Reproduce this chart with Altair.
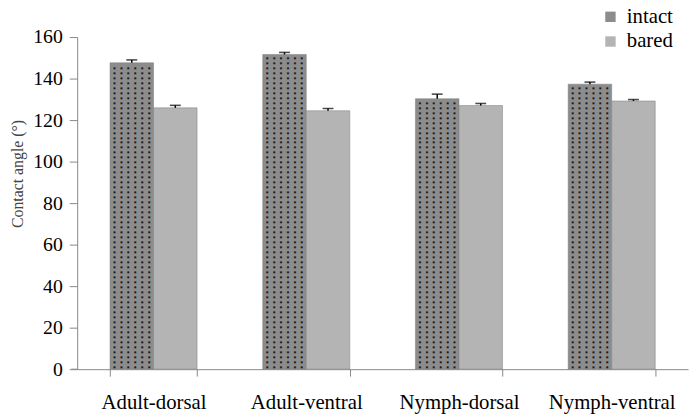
import altair as alt
import pandas as pd

categories = ["Adult-dorsal", "Adult-ventral", "Nymph-dorsal", "Nymph-ventral"]
intact = [147.6, 151.6, 130.3, 137.3]
intact_err = [1.4, 1.0, 2.2, 1.0]
bared = [125.9, 124.5, 127.0, 129.2]
bared_err = [1.2, 1.1, 1.0, 0.7]
groups = ["intact", "bared"]
y_ticks = [0, 20, 40, 60, 80, 100, 120, 140, 160]

rows = []
for i, c in enumerate(categories):
    rows.append({"cat": c, "grp": "intact", "value": intact[i], "err": intact_err[i]})
    rows.append({"cat": c, "grp": "bared", "value": bared[i], "err": bared_err[i]})
df = pd.DataFrame(rows)

SERIF = "Liberation Serif, Times New Roman, serif"

x = alt.X("cat:N", sort=categories, title=None,
          scale=alt.Scale(paddingInner=0.43, paddingOuter=0.215),
          axis=alt.Axis(labelAngle=0, tickBand="extent", labelFont=SERIF,
                        labelFontSize=21, labelColor="black", labelPadding=16,
                        tickSize=7, tickColor="#888", domainColor="#888",
                        labelOverlap=False))
xo = alt.XOffset("grp:N", sort=groups, scale=alt.Scale(paddingInner=0, paddingOuter=0))
y = alt.Y("value:Q", scale=alt.Scale(domain=[0, 160], nice=False),
          axis=alt.Axis(values=y_ticks, grid=False, labelFont=SERIF, labelFontSize=20,
                        labelColor="black", labelPadding=7, tickSize=8,
                        tickColor="#888", domainColor="#888",
                        title="Contact angle (°)", titleFont=SERIF, titleFontSize=16,
                        titleFontWeight="normal", titleColor="#444",
                        titleX=-60, titleY=138, titleAngle=-90,
                        titleBaseline="middle", titleAlign="center"))

base = alt.Chart(df)

bars = base.mark_bar(stroke="#7a7a7a", strokeWidth=0.5).encode(
    x=x, xOffset=xo, y=y,
    color=alt.Color("grp:N", sort=groups,
                    scale=alt.Scale(domain=groups, range=["#8c8c8c", "#b4b4b4"]),
                    legend=alt.Legend(title=None, orient="none", legendX=529, legendY=-31,
                                      symbolType="square", symbolSize=110,
                                      symbolStrokeWidth=0, labelFont=SERIF,
                                      labelFontSize=21, labelColor="black",
                                      rowPadding=3, labelOffset=6)),
)

dots = []
for dxv in [-17.5, -10.5, -3.5, 3.5, 10.5, 17.5]:
    dots.append(
        base.transform_filter(alt.datum.grp == "intact")
        .transform_calculate(ys="sequence(1.2, datum.value - 0.6, 2.4)")
        .transform_flatten(["ys"])
        .mark_text(text="■", fontSize=2.6, color="#1a1a1a", dx=dxv, baseline="middle",
                   font="DejaVu Sans")
        .encode(x=x, xOffset=xo, y=alt.Y("ys:Q"))
    )

rule = base.transform_calculate(top="datum.value + datum.err").mark_rule(
    color="black", strokeWidth=1.5).encode(x=x, xOffset=xo, y=y, y2="top:Q")
cap = base.transform_calculate(top="datum.value + datum.err").mark_tick(
    color="black", size=11, thickness=1.6).encode(x=x, xOffset=xo, y=alt.Y("top:Q"))

stub = alt.Chart(pd.DataFrame({"v": [0]})).mark_rule(color="#888").encode(
    x=alt.value(-6), x2=alt.value(0), y=alt.Y("v:Q"))

chart = alt.layer(bars, *dots, rule, cap, stub).properties(
    width=618, height=336,
    autosize=alt.AutoSizeParams(type="none"),
    padding={"left": 70, "top": 27, "right": 4, "bottom": 48},
).configure_view(stroke=None)

chart.save("out.html", embed_options={"renderer": "svg", "actions": False})
